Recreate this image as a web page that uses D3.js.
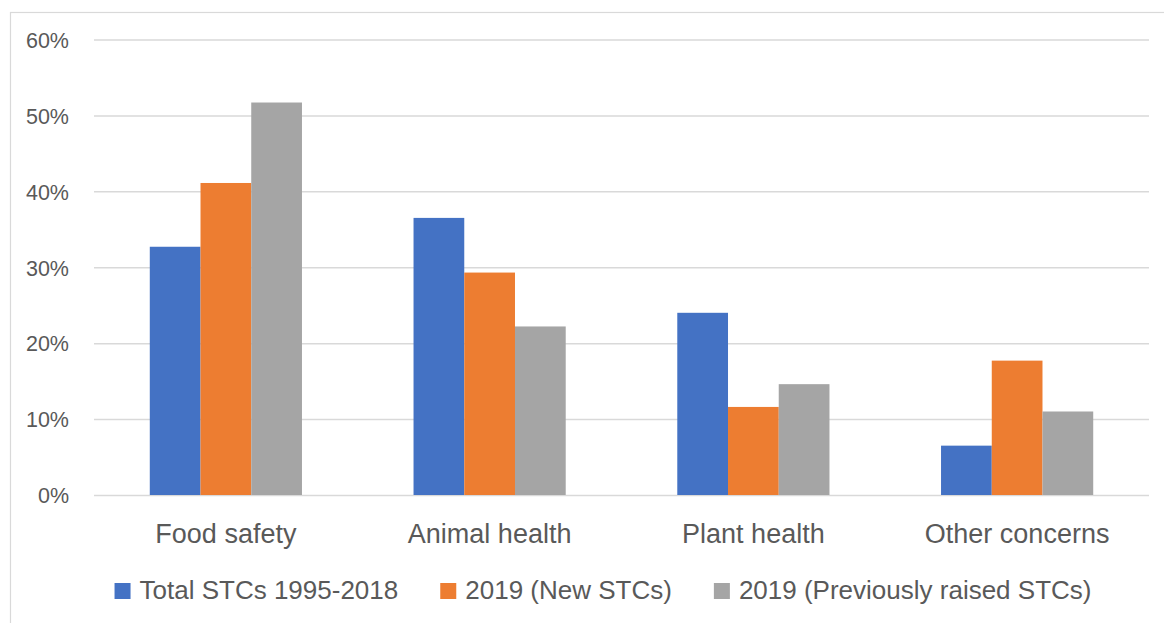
<!DOCTYPE html>
<html>
<head>
<meta charset="utf-8">
<script src="https://cdn.jsdelivr.net/npm/d3@7"></script>
<style>
  html, body { margin: 0; padding: 0; background: #fff; }
  svg { display: block; font-family: 'Liberation Sans', Arial, sans-serif; }
</style>
</head>
<body>
<div id="chart"></div>
<script>
const categories = ['Food safety', 'Animal health', 'Plant health', 'Other concerns']
const seriesNames = ['Total STCs 1995-2018', '2019 (New STCs)', '2019 (Previously raised STCs)']
const totalValues = [0.327, 0.365, 0.240, 0.065]
const newValues = [0.411, 0.293, 0.116, 0.177]
const prevValues = [0.517, 0.222, 0.146, 0.110]
const yTicks = [0, 0.1, 0.2, 0.3, 0.4, 0.5, 0.6]
const colors = ['#4472C4', '#ED7D31', '#A5A5A5']

const width = 1164
const height = 623
const margin = { top: 39.5, right: 15, bottom: 128, left: 94 }

const seriesValues = [totalValues, newValues, prevValues]
const data = categories.map((c, i) => ({
  category: c,
  values: seriesNames.map((s, j) => ({ key: s, value: seriesValues[j][i], color: colors[j] }))
}))

const svg = d3.select('#chart').append('svg').attr('width', width).attr('height', height)

// chart border (right and bottom run off the picture)
svg
  .append('rect')
  .attr('x', 10.5)
  .attr('y', 12.5)
  .attr('width', width + 20)
  .attr('height', height + 20)
  .attr('fill', 'none')
  .attr('stroke', '#D9D9D9')
  .attr('stroke-width', 1.2)

const xScale = d3
  .scaleBand()
  .domain(categories)
  .range([margin.left, width - margin.right])
  .padding(0)

const groupWidth = xScale.bandwidth() * 0.577
const x1 = d3.scaleBand().domain(seriesNames).range([0, groupWidth]).padding(0)

const yScale = d3
  .scaleLinear()
  .domain([0, 0.6])
  .range([height - margin.bottom, margin.top])

// gridlines + y labels
const yAxis = d3
  .axisLeft(yScale)
  .tickValues(yTicks)
  .tickFormat(d3.format('.0%'))
  .tickSize(-(width - margin.left - margin.right))
  .tickPadding(25)

svg
  .append('g')
  .attr('class', 'y-axis')
  .attr('transform', `translate(${margin.left},0)`)
  .call(yAxis)
  .call((g) => {
    g.select('.domain').remove()
    g.selectAll('.tick line').attr('stroke', '#D9D9D9').attr('stroke-width', 1.5)
    g.selectAll('.tick text')
      .attr('fill', '#595959')
      .attr('font-size', '21.5px')
      .attr('font-family', "'Liberation Sans', Arial, sans-serif")
      .attr('dy', '0.36em')
  })

// bars
const groups = svg
  .append('g')
  .selectAll('g')
  .data(data)
  .join('g')
  .attr('transform', (d) => `translate(${xScale(d.category) + (xScale.bandwidth() - groupWidth) / 2},0)`)

groups
  .selectAll('rect')
  .data((d) => d.values)
  .join('rect')
  .attr('x', (d) => x1(d.key))
  .attr('y', (d) => yScale(d.value))
  .attr('width', x1.bandwidth())
  .attr('height', (d) => yScale(0) - yScale(d.value))
  .attr('fill', (d) => d.color)

// category labels
const xAxis = d3.axisBottom(xScale).tickSize(0).tickPadding(0)
svg
  .append('g')
  .attr('class', 'x-axis')
  .attr('transform', `translate(0,${yScale(0)})`)
  .call(xAxis)
  .call((g) => {
    g.select('.domain').remove()
    g.selectAll('.tick text')
      .attr('fill', '#595959')
      .attr('font-size', '27px')
      .attr('font-family', "'Liberation Sans', Arial, sans-serif")
      .attr('y', 48)
      .attr('dy', 0)
  })

// legend
const legend = svg.append('g').attr('class', 'legend')
const legendY = 599
const sq = 16
const items = legend
  .selectAll('g')
  .data(seriesNames)
  .join('g')

items
  .append('rect')
  .attr('y', legendY - sq)
  .attr('width', sq)
  .attr('height', sq)
  .attr('fill', (d, i) => colors[i])

items
  .append('text')
  .attr('x', sq + 9)
  .attr('y', legendY)
  .attr('fill', '#595959')
  .attr('font-size', '26px')
  .text((d) => d)

let pos = 0
const offsets = []
items.each(function () {
  offsets.push(pos)
  pos += sq + 9 + this.querySelector('text').getComputedTextLength() + 42
})
const legendWidth = pos - 42
const legendStart = 603 - legendWidth / 2
items.attr('transform', (d, i) => `translate(${legendStart + offsets[i]},0)`)
</script>
</body>
</html>
